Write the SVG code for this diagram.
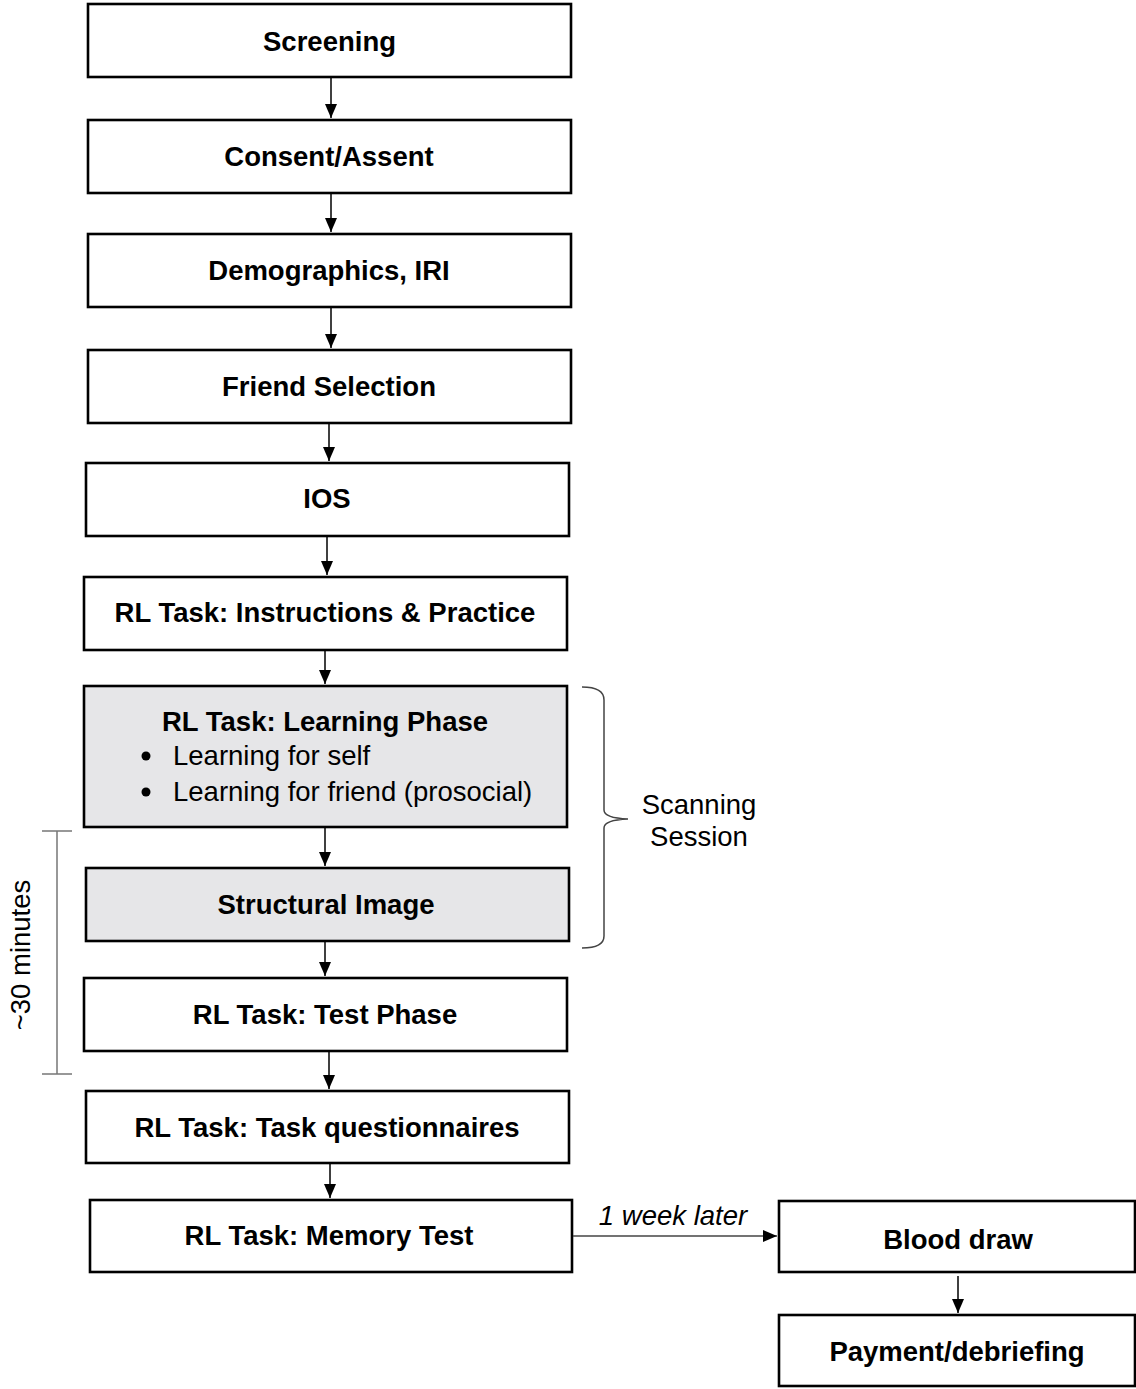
<svg xmlns="http://www.w3.org/2000/svg" width="1136" height="1389" viewBox="0 0 1136 1389">
<defs>
<marker id="ah" markerUnits="userSpaceOnUse" viewBox="0 0 14 12" refX="14" refY="6" markerWidth="14" markerHeight="12" orient="auto">
<path d="M0,0 L14,6 L0,12 z" fill="#000"/>
</marker>
</defs>
<style>
.box{fill:#fff;stroke:#000;stroke-width:2.6}
.gbox{fill:#e6e6e8;stroke:#000;stroke-width:2.6}
.t{font-family:"Liberation Sans",Arial,sans-serif;font-size:27.5px;font-weight:bold;text-anchor:middle;fill:#000}
.n{font-family:"Liberation Sans",Arial,sans-serif;font-size:27.5px;fill:#000}
.c{stroke:#000;stroke-width:1.5;fill:none;marker-end:url(#ah)}
.g{stroke:#777;stroke-width:1.5;fill:none}
.b{stroke:#444;stroke-width:1.5;fill:none}
</style>
<rect width="1136" height="1389" fill="#fff"/>
<g id="screening"><rect class="box" x="88" y="4" width="483" height="73"/><text class="t" x="329.5" y="51">Screening</text></g>
<g id="consent"><rect class="box" x="88" y="120" width="483" height="73"/><text class="t" x="329" y="166">Consent/Assent</text></g>
<g id="demographics"><rect class="box" x="88" y="234" width="483" height="73"/><text class="t" x="329" y="280">Demographics, IRI</text></g>
<g id="friend"><rect class="box" x="88" y="350" width="483" height="73"/><text class="t" x="329" y="396">Friend Selection</text></g>
<g id="ios"><rect class="box" x="86" y="463" width="483" height="73"/><text class="t" x="327" y="508">IOS</text></g>
<g id="instructions"><rect class="box" x="84" y="577" width="483" height="73"/><text class="t" x="325" y="622">RL Task: Instructions &amp; Practice</text></g>
<g id="learning"><rect class="gbox" x="84" y="686" width="483" height="141"/><text class="t" x="325" y="731">RL Task: Learning Phase</text>
<circle cx="146" cy="756" r="4.5"/><text class="n" x="173" y="765">Learning for self</text>
<circle cx="146" cy="792" r="4.5"/><text class="n" x="173" y="801">Learning for friend (prosocial)</text></g>
<g id="structural"><rect class="gbox" x="86" y="868" width="483" height="73"/><text class="t" x="326" y="914">Structural Image</text></g>
<g id="test"><rect class="box" x="84" y="978" width="483" height="73"/><text class="t" x="325" y="1024">RL Task: Test Phase</text></g>
<g id="questionnaires"><rect class="box" x="86" y="1091" width="483" height="72"/><text class="t" x="327" y="1137">RL Task: Task questionnaires</text></g>
<g id="memory"><rect class="box" x="90" y="1200" width="482" height="72"/><text class="t" x="329" y="1245">RL Task: Memory Test</text></g>
<g id="blood"><rect class="box" x="779" y="1201" width="356" height="71"/><text class="t" x="958" y="1249">Blood draw</text></g>
<g id="payment"><rect class="box" x="779" y="1315" width="356" height="71"/><text class="t" x="957" y="1361">Payment/debriefing</text></g>
<g id="scanning-brace">
<path class="b" d="M582,687 Q604,687 604,700 L604,810 Q604,818 628,819 Q604,820 604,828 L604,936 Q604,948 582,948"/>
<text class="n" x="699" y="814" text-anchor="middle">Scanning</text>
<text class="n" x="699" y="846" text-anchor="middle">Session</text>
</g>
<g id="duration">
<path class="g" d="M42,831 L72,831 M57,831 L57,1074 M42,1074 L72,1074"/>
<text class="n" transform="translate(30,955) rotate(-90)" text-anchor="middle">~30 minutes</text>
</g>
<g id="connectors">
<path class="c" d="M331,78 L331,118"/>
<path class="c" d="M331,194 L331,232"/>
<path class="c" d="M331,308 L331,348"/>
<path class="c" d="M329,424 L329,461"/>
<path class="c" d="M327,537 L327,575"/>
<path class="c" d="M325,651 L325,684"/>
<path class="c" d="M325,828 L325,866"/>
<path class="c" d="M325,942 L325,976"/>
<path class="c" d="M329,1052 L329,1089"/>
<path class="c" d="M330,1164 L330,1198"/>
<path class="c" style="stroke:#444" d="M573,1236 L777,1236"/>
<path class="c" d="M958,1276 L958,1313"/>
<text class="n" x="673" y="1225" text-anchor="middle" font-style="italic">1 week later</text>
</g>
</svg>
